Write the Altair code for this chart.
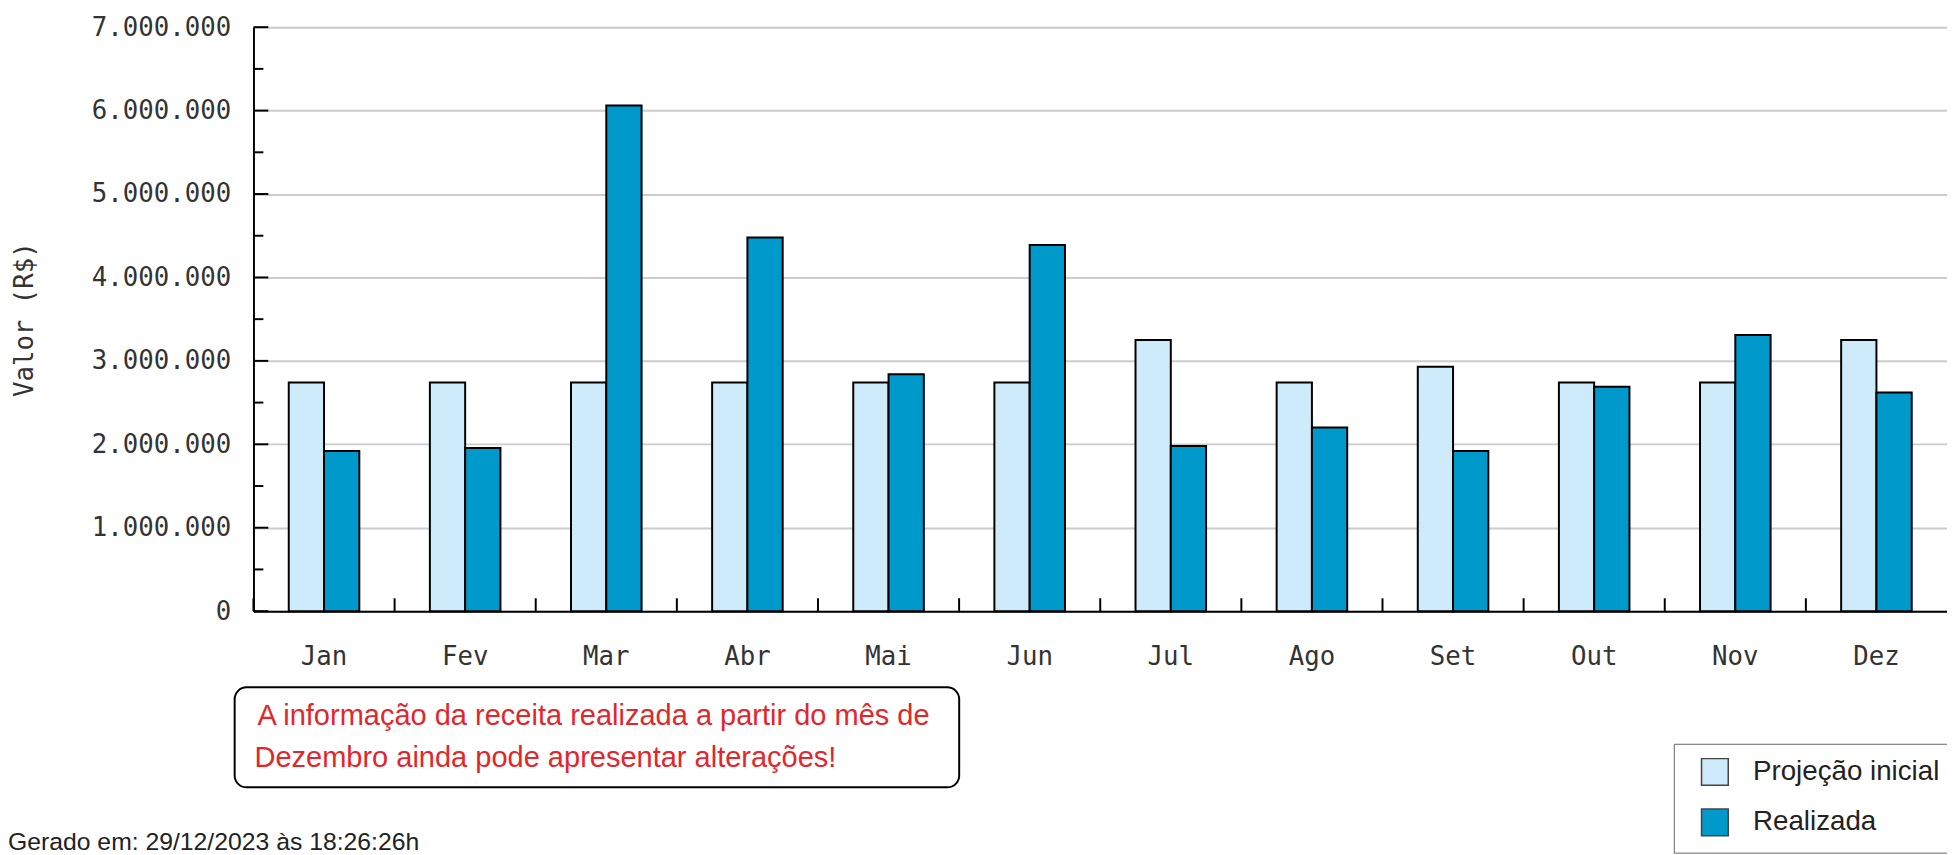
import altair as alt
import pandas as pd

meses = ["Jan", "Fev", "Mar", "Abr", "Mai", "Jun", "Jul", "Ago", "Set", "Out", "Nov", "Dez"]
projecao = [2740000, 2740000, 2740000, 2740000, 2740000, 2740000, 3250000, 2740000, 2930000, 2740000, 2740000, 3250000]
realizada = [1920000, 1955000, 6060000, 4480000, 2840000, 4390000, 1980000, 2200000, 1920000, 2690000, 3310000, 2620000]
series = ["Projeção inicial", "Realizada"]
cores = ["#cdebfa", "#0099cc"]
ticks_maiores = [0, 1000000, 2000000, 3000000, 4000000, 5000000, 6000000, 7000000]
ticks_menores = [500000, 1500000, 2500000, 3500000, 4500000, 5500000, 6500000]
aviso = ["A informação da receita realizada a partir do mês de",
         "Dezembro ainda pode apresentar alterações!"]
rodape = "Gerado em: 29/12/2023 às 18:26:26h"

W, H = 1711, 590
MONO = "DejaVu Sans Mono"
SANS = "Liberation Sans"

rows = []
for i, m in enumerate(meses):
    rows.append({"mes": m, "serie": series[0], "valor": projecao[i]})
    rows.append({"mes": m, "serie": series[1], "valor": realizada[i]})
df = pd.DataFrame(rows)

fmt_expr = "replace(format(datum.value, ',.0f'), /,/g, '.')"

xscale = alt.Scale(domain=meses, paddingInner=0, paddingOuter=0)
yscale = alt.Scale(domain=[0, 7000000], nice=False)

xaxis = alt.Axis(labelAngle=0, ticks=False, tickSize=0, labelPadding=33,
                 labelFont=MONO, labelFontSize=26, labelColor="#333",
                 domainColor="black", domainWidth=2, grid=False)
yaxis = alt.Axis(values=ticks_maiores, labelExpr=fmt_expr, ticks=False, tickSize=0,
                 labelPadding=23, labelFont=MONO, labelFontSize=26, labelColor="#333",
                 domainColor="black", domainWidth=2,
                 grid=True, gridColor="#cccccc", gridWidth=2,
                 titleFont=MONO, titleFontSize=26, titleFontWeight="normal",
                 titleColor="#333", titleX=-231, titleY=H / 2, titleAngle=270,
                 titleAlign="center", titleBaseline="middle")

X = lambda **kw: alt.X("mes:N", sort=meses, scale=xscale, title=None, axis=xaxis, **kw)
Y = lambda: alt.Y("valor:Q", scale=yscale, title="Valor (R$)", axis=yaxis)

bars = alt.Chart(df).mark_bar(stroke="black", strokeWidth=2).encode(
    x=X(),
    xOffset=alt.XOffset("serie:N", sort=series,
                        scale=alt.Scale(domain=series, paddingInner=0, paddingOuter=1)),
    y=Y(),
    color=alt.Color("serie:N", sort=series,
                    scale=alt.Scale(domain=series, range=cores),
                    legend=alt.Legend(title=None, orient="none", legendX=1435, legendY=724,
                                      fillColor="white", strokeColor="#666",
                                      padding=14, symbolOffset=13,
                                      symbolType="square", symbolSize=729,
                                      symbolStrokeColor="#444", symbolStrokeWidth=1.5,
                                      labelFont=SANS, labelFontSize=28, labelColor="#222",
                                      labelOffset=24, rowPadding=18, labelLimit=400)),
)

tk_major = alt.Chart(pd.DataFrame({"valor": ticks_maiores})).mark_rule(
    color="black", strokeWidth=2).encode(y=Y(), x=alt.value(0), x2=alt.value(15))

tk_minor = alt.Chart(pd.DataFrame({"valor": ticks_menores})).mark_rule(
    color="black", strokeWidth=2).encode(y=Y(), x=alt.value(0), x2=alt.value(10))

tk_x = alt.Chart(pd.DataFrame({"mes": meses})).mark_rule(
    color="black", strokeWidth=2).encode(
    x=X(bandPosition=0), y=alt.value(H - 13), y2=alt.value(H))

caixa = alt.Chart(pd.DataFrame({"a": [0]})).mark_rect(
    fill="white", stroke="black", strokeWidth=2, cornerRadius=12).encode(
    x=alt.value(-19), x2=alt.value(713), y=alt.value(667), y2=alt.value(768))

txt1 = alt.Chart(pd.DataFrame({"t": [aviso[0]]})).mark_text(
    font=SANS, fontSize=29.3, color="#e3262b", align="left", baseline="middle").encode(
    text="t:N", x=alt.value(4), y=alt.value(696))

txt2 = alt.Chart(pd.DataFrame({"t": [aviso[1]]})).mark_text(
    font=SANS, fontSize=29.3, color="#e3262b", align="left", baseline="middle").encode(
    text="t:N", x=alt.value(1), y=alt.value(738))

foot = alt.Chart(pd.DataFrame({"t": [rodape]})).mark_text(
    font=SANS, fontSize=25, color="#222", align="left", baseline="alphabetic").encode(
    text="t:N", x=alt.value(-248), y=alt.value(831))

chart = alt.layer(bars, tk_major, tk_minor, tk_x, caixa, txt1, txt2, foot).properties(
    width=W, height=H,
    autosize=alt.AutoSizeParams(type="none"),
    padding={"left": 248, "top": 15, "right": 0, "bottom": 242},
).configure_view(stroke=None).configure(background="white")

chart.save("out.html", embed_options={"renderer": "svg", "actions": False})
